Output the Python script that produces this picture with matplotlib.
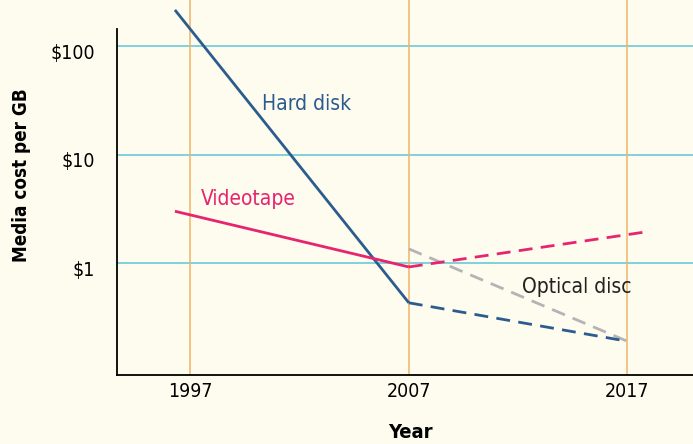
import matplotlib.pyplot as plt
import matplotlib.transforms as mtransforms
import numpy as np

# Media cost per GB, dollars (log scale)
years_tape = [1996.3, 2007]
tape_cost = [3.0, 0.92]
years_tape_proj = [2007, 2017.8]
tape_cost_proj = [0.92, 1.93]

years_disk = [1996.3, 2007]
disk_cost = [215, 0.43]
years_disk_proj = [2007, 2017]
disk_cost_proj = [0.43, 0.19]

years_optical = [2007, 2017]
optical_cost = [1.35, 0.19]

year_ticks = [1997, 2007, 2017]
cost_ticks = [1, 10, 100]
cost_labels = ["$1", "$10", "$100"]

BG = "#fdfcef"
DISK = "#2c5c8e"
TAPE = "#e6246f"
OPTICAL = "#b4b4b4"
GRID_H = "#5ec6d6"
GRID_V = "#eeb468"

plt.rcParams["font.family"] = ["DejaVu Sans"]
plt.rcParams["font.stretch"] = "condensed"

fig = plt.figure(figsize=(6.93, 4.44), dpi=100, facecolor=BG)
ax = fig.add_axes([117 / 693, 69 / 444, 1 - 117 / 693, 375 / 444])
ax.set_facecolor(BG)
ax.set_yscale("log")
ax.set_xlim(1993.65, 2020.0)
ax.set_ylim(10 ** -1.032, 10 ** 2.424)

for c in cost_ticks:
    ax.axhline(c, color=GRID_H, lw=1.1, zorder=1)
for y in year_ticks:
    ax.axvline(y, color=GRID_V, lw=1.1, zorder=1)

ax.plot(years_disk, disk_cost, color=DISK, lw=2.0, zorder=3, solid_capstyle="butt")
ax.plot(years_disk_proj, disk_cost_proj, color=DISK, lw=2.0, ls=(0, (5, 3)), zorder=3)
ax.plot(years_optical, optical_cost, color=OPTICAL, lw=2.0, ls=(0, (5, 3)), zorder=2)
ax.plot(years_tape, tape_cost, color=TAPE, lw=2.0, zorder=4, solid_capstyle="butt")
ax.plot(years_tape_proj, tape_cost_proj, color=TAPE, lw=2.0, ls=(0, (5, 3)), zorder=4)

ax.text(2000.3, 29, "Hard disk", color=DISK, fontsize=15, ha="left", va="center")
ax.text(1997.5, 3.9, "Videotape", color=TAPE, fontsize=15, ha="left", va="center")
ax.text(2012.2, 0.6, "Optical disc", color="#222222", fontsize=15, ha="left", va="center")

for side in ["top", "right"]:
    ax.spines[side].set_visible(False)
ax.spines["left"].set_bounds(10 ** -1.032, 143)
ax.spines["left"].set_linewidth(1.3)
ax.spines["bottom"].set_linewidth(1.3)

ax.set_xticks(year_ticks)
ax.set_xticklabels([str(y) for y in year_ticks], fontsize=14)
ax.set_yticks(cost_ticks)
ax.set_yticklabels(cost_labels, fontsize=14)
ax.yaxis.set_minor_locator(plt.NullLocator())
ax.tick_params(axis="x", length=0, pad=5)
ax.tick_params(axis="y", length=0, pad=16)

# money labels sit a little below their gridlines
shift = mtransforms.ScaledTranslation(0, -5 / 100, fig.dpi_scale_trans)
for lbl in ax.get_yticklabels():
    lbl.set_transform(lbl.get_transform() + shift)

fig.text(22 / 693, 1 - 175 / 444, "Media cost per GB", rotation=90, fontsize=13.5,
         fontweight="bold", ha="center", va="center")
fig.text(410 / 693, 1 - 432 / 444, "Year", fontsize=14.5, fontweight="bold",
         ha="center", va="center")

fig.savefig("out.png", dpi=100, facecolor=BG)
